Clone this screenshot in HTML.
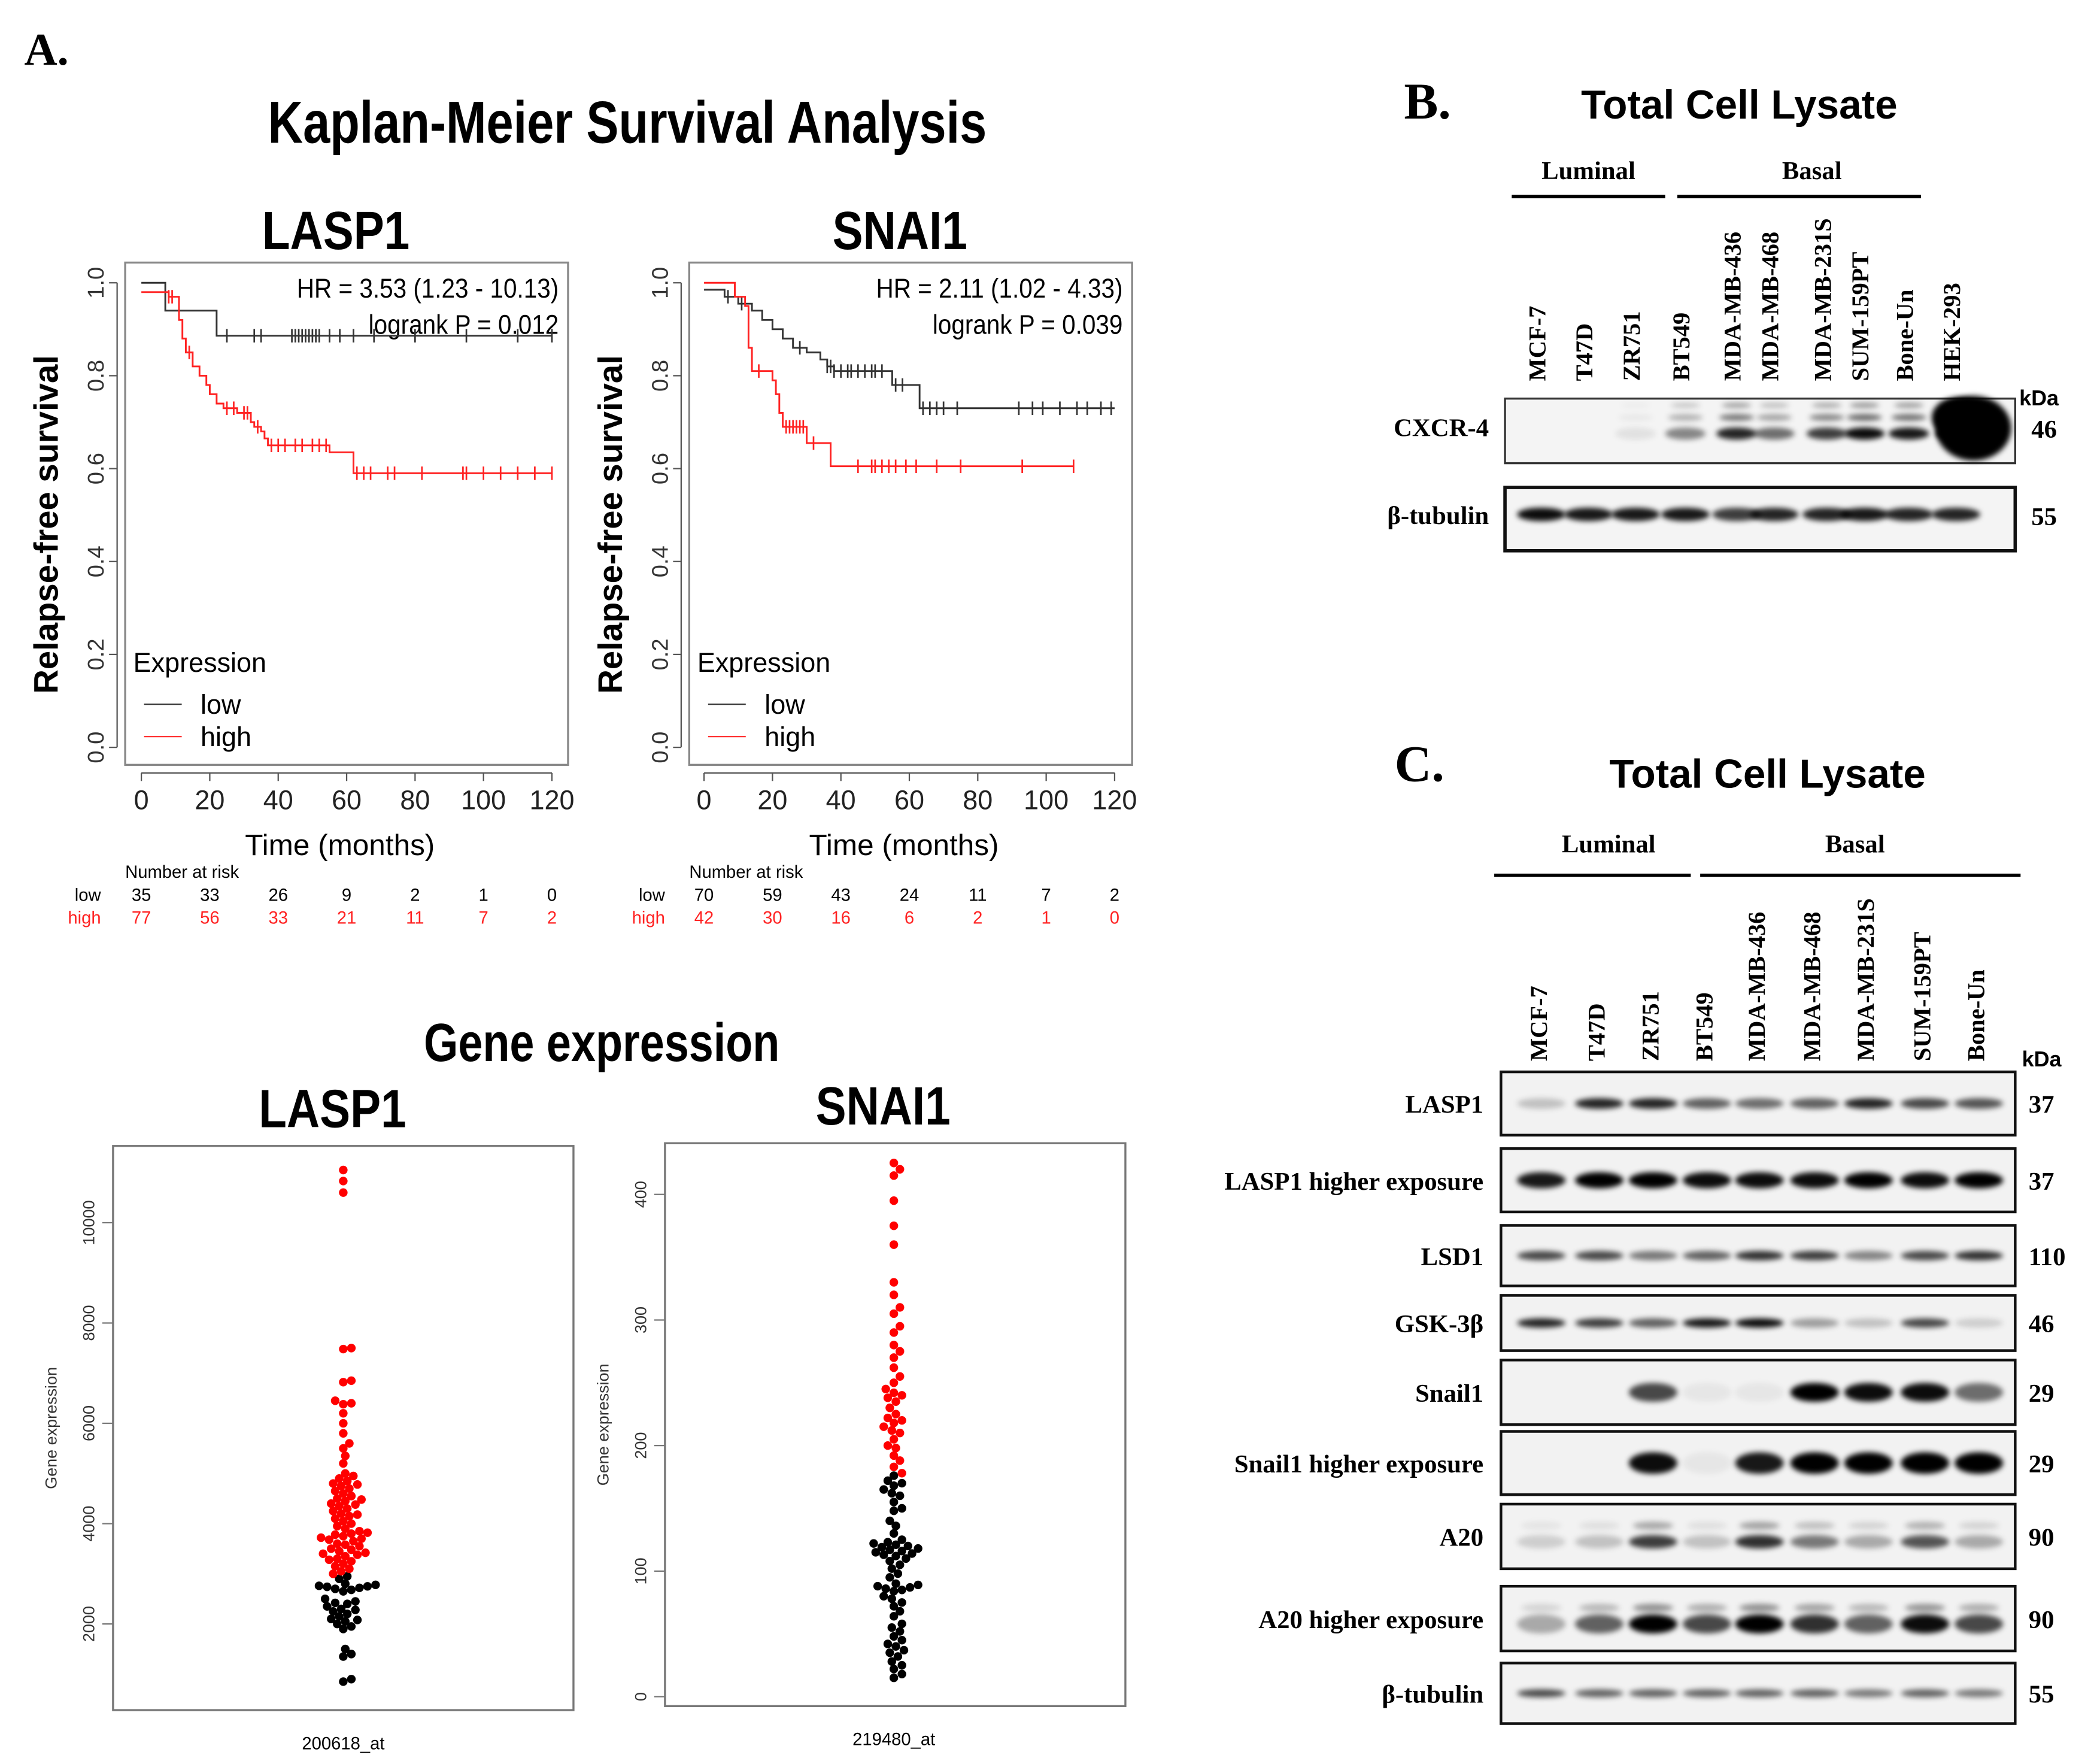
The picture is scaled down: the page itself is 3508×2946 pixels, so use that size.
<!DOCTYPE html>
<html><head><meta charset="utf-8">
<style>
html,body{margin:0;padding:0;background:#fff;}
svg{display:block;}
.ser{font-family:"Liberation Serif",serif;font-weight:bold;}
.san{font-family:"Liberation Sans",sans-serif;}
.nar{font-family:"Liberation Sans Narrow","Liberation Sans",sans-serif;}
</style></head>
<body>
<svg id="fig" width="3508" height="2946" viewBox="0 0 1560 1310" preserveAspectRatio="none" xmlns="http://www.w3.org/2000/svg">
<defs>
<filter id="blur" x="-50%" y="-200%" width="200%" height="500%"><feGaussianBlur stdDeviation="2"/></filter>
</defs>
<g id="root"></g>
<text x="18" y="48" class="ser" font-size="34">A.</text>
<text x="466" y="106" text-anchor="middle" class="nar" font-weight="bold" font-size="44" transform="translate(466,106) scale(0.82,1) translate(-466,-106)">Kaplan-Meier Survival Analysis</text>
<text x="447" y="788" text-anchor="middle" class="nar" font-weight="bold" font-size="40" transform="translate(447,788) scale(0.82,1) translate(-447,-788)">Gene expression</text>
</svg>
<script>
// ---------- KM data ----------
const kmLaspLowT=[0,7,22];
const kmLaspLowS=[1.0,0.94,0.886];
const kmLaspLowCT=[25,33,35,44,45,46,47,48,49,50,51,52,55,58,62,68,80,95,110,120];
const kmLaspHighT=[0,8,11,12,13,15,17,19,20,22,24,28,32,33,35,36,37,55,62];
const kmLaspHighS=[0.98,0.97,0.92,0.88,0.85,0.82,0.80,0.78,0.76,0.74,0.73,0.72,0.70,0.69,0.68,0.665,0.65,0.635,0.59];
const kmLaspHighCT=[8,9,14,25,27,30,31,34,38,40,42,45,47,50,52,54,63,65,67,72,74,82,94,95,100,105,110,115,120];
const kmSnaiLowT=[0,6,10,14,17,20,23,26,30,34,36,38,55,63];
const kmSnaiLowS=[0.985,0.97,0.955,0.94,0.92,0.90,0.88,0.86,0.85,0.835,0.82,0.81,0.78,0.73];
const kmSnaiLowCT=[7,11,28,36,37,38,40,42,43,45,47,49,50,52,56,58,64,66,68,70,74,92,96,99,104,109,112,116,119];
const kmSnaiHighT=[0,9,12,13,14,20,21,22,23,30,37];
const kmSnaiHighS=[1.0,0.97,0.95,0.86,0.81,0.79,0.76,0.72,0.69,0.655,0.605];
const kmSnaiHighCT=[16,24,25,26,27,28,29,32,45,49,50,52,54,56,59,62,68,75,93,108];
const xTicks=[0,20,40,60,80,100,120];
const yTicks=[0,0.2,0.4,0.6,0.8,1.0];
const riskLaspLow=[35,33,26,9,2,1,0];
const riskLaspHigh=[77,56,33,21,11,7,2];
const riskSnaiLow=[70,59,43,24,11,7,2];
const riskSnaiHigh=[42,30,16,6,2,1,0];
// ---------- swarm data ----------
const laspHigh=[11050,10830,10600,7500,7480,6850,6820,6450,6400,6380,6200,6000,5800,5600,5500,5350,5200,5000,4950,4900,4850,4800,4780,4750,4700,4650,4600,4550,4500,4480,4450,4400,4380,4350,4300,4250,4200,4180,4150,4100,4050,4000,3950,3900,3850,3820,3800,3780,3750,3720,3700,3680,3650,3600,3580,3550,3500,3480,3450,3420,3400,3380,3350,3300,3280,3250,3200,3150,3100,3050,3000];
const laspLow=[2950,2900,2800,2780,2760,2750,2740,2720,2700,2680,2650,2500,2450,2420,2400,2350,2300,2280,2250,2200,2150,2100,2080,2050,2000,1950,1900,1500,1400,1350,900,850];
const snaiHigh=[425,420,415,395,375,360,330,320,310,305,295,290,280,275,270,262,255,250,245,242,240,238,235,230,225,222,220,218,215,212,210,205,200,198,192,188,183,178];
const snaiLow=[176,172,170,168,165,162,160,155,150,148,140,136,130,125,123,122,121,120,119,118,117,116,115,114,113,112,110,108,105,102,98,95,90,89,88,87,86,85,84,80,78,75,72,68,64,58,55,52,48,45,42,40,37,35,32,28,25,22,18,15];
// ---------- blot data ----------
const lanesB=["MCF-7","T47D","ZR751","BT549","MDA-MB-436","MDA-MB-468","MDA-MB-231S","SUM-159PT","Bone-Un","HEK-293"];
const cxcr4=[0,0,0.08,0.45,0.85,0.55,0.75,0.95,0.9,1.0];
const tubB=[0.95,0.9,0.9,0.9,0.75,0.85,0.85,0.9,0.85,0.85];
const lanesC=["MCF-7","T47D","ZR751","BT549","MDA-MB-436","MDA-MB-468","MDA-MB-231S","SUM-159PT","Bone-Un"];
const rowNames=["LASP1","LASP1 higher exposure","LSD1","GSK-3β","Snail1","Snail1 higher exposure","A20","A20 higher exposure","β-tubulin"];
const rowKda=["37","37","110","46","29","29","90","90","55"];
const rowLasp=[0.2,0.85,0.85,0.6,0.55,0.6,0.85,0.7,0.65];
const rowLaspHi=[0.9,1,1,0.95,0.95,0.95,1,0.95,1];
const rowLsd=[0.7,0.7,0.5,0.6,0.8,0.75,0.45,0.7,0.8];
const rowGsk=[0.85,0.75,0.6,0.9,0.95,0.35,0.2,0.7,0.15];
const rowSnail=[0,0,0.7,0.05,0.05,1,0.95,0.95,0.55];
const rowSnailHi=[0,0,0.95,0.05,0.9,1,1,1,1];
const rowA20=[0.15,0.2,0.75,0.2,0.8,0.5,0.3,0.65,0.3];
const rowA20Hi=[0.3,0.6,1,0.7,1,0.8,0.6,0.95,0.7];
const rowTub=[0.7,0.6,0.6,0.6,0.6,0.6,0.5,0.6,0.5];
const rowData=[rowLasp,rowLaspHi,rowLsd,rowGsk,rowSnail,rowSnailHi,rowA20,rowA20Hi,rowTub];

const NS="http://www.w3.org/2000/svg";
const root=document.getElementById('root');
function mk(tag,attrs,parent){const e=document.createElementNS(NS,tag);for(const k in attrs)e.setAttribute(k,attrs[k]);(parent||root).appendChild(e);return e;}
function txt(x,y,s,attrs,parent){const e=mk('text',Object.assign({x:x,y:y},attrs),parent);e.textContent=s;return e;}

// ---------- KM ----------
function kmPanel(cfg){
  const g=mk('g',{});
  
  
  const L=cfg.x0,R=cfg.x0+329,T=195,B=568;
  const xs=t=>cfg.xz+(t/120)*305;
  const ys=s=>555-s*345;
  const frame=mk('rect',{x:L,y:T,width:R-L,height:B-T,fill:'none',stroke:'#888','stroke-width':1.5},g);
  
  
  const title=txt((L+R)/2-8,185,cfg.name,{class:'nar','font-weight':'bold','font-size':40,'text-anchor':'middle',transform:`translate(${(L+R)/2-8},185) scale(0.85,1) translate(${-((L+R)/2-8)},-185)`},g);
  
  
  mk('line',{x1:xs(0),x2:xs(120),y1:B+6,y2:B+6,stroke:'#555'},g);
  xTicks.forEach(t=>{mk('line',{x1:xs(t),x2:xs(t),y1:B+6,y2:B+12,stroke:'#555'},g);
    const tl=txt(xs(t),B+33,String(t),{class:'nar','font-size':20,'text-anchor':'middle',fill:'#222'},g);
    
    });
  mk('line',{x1:L-6,x2:L-6,y1:ys(0),y2:ys(1),stroke:'#555'},g);
  yTicks.forEach(v=>{mk('line',{x1:L-12,x2:L-6,y1:ys(v),y2:ys(v),stroke:'#555'},g);
    const tl=txt(L-22,ys(v),v.toFixed(1),{class:'san','font-size':17,'text-anchor':'middle',fill:'#333',transform:`rotate(-90 ${L-22} ${ys(v)})`,dy:6},g);
    
    });
  const yt=txt(L-50,(T+B)/2+8,'Relapse-free survival',{class:'san','font-weight':'bold','font-size':25,'text-anchor':'middle',transform:`rotate(-90 ${L-50} ${(T+B)/2+8})`},g);
  
  
  const xt=txt((L+R)/2-5,635,'Time (months)',{class:'nar','font-size':22,'text-anchor':'middle'},g);
  
  
  txt(R-7,221,cfg.hr,{class:'nar','font-size':20,'text-anchor':'end',transform:`translate(${R-7},0) scale(0.9,1) translate(${-(R-7)},0)`},g);
  txt(R-7,248,cfg.p,{class:'nar','font-size':20,'text-anchor':'end',transform:`translate(${R-7},0) scale(0.9,1) translate(${-(R-7)},0)`},g);
  const lg=mk('g',{},g);
  
  
  txt(L+6,499,'Expression',{class:'nar','font-size':20},lg);
  mk('line',{x1:L+14,x2:L+42,y1:523,y2:523,stroke:'#333'},lg);
  txt(L+56,530,'low',{class:'nar','font-size':20},lg);
  mk('line',{x1:L+14,x2:L+42,y1:547,y2:547,stroke:'#f33'},lg);
  txt(L+56,554,'high',{class:'nar','font-size':20},lg);
  function curve(T_,S_,C_,col,nm){
    let d=`M${xs(T_[0])},${ys(S_[0])}`;
    for(let i=1;i<T_.length;i++){d+=`H${xs(T_[i])}V${ys(S_[i])}`;}
    d+=`H${xs(cfg.end[nm])}`;
    const p=mk('path',{d:d,fill:'none',stroke:col,'stroke-width':1.3},g);
    
    
    C_.forEach(t=>{let s=S_[0];for(let i=0;i<T_.length;i++){if(T_[i]<=t)s=S_[i];}
      const c=mk('path',{d:`M${xs(t)},${ys(s)-5}v10`,stroke:col,'stroke-width':1.2},g);
      
      });
  }
  curve(cfg.lowT,cfg.lowS,cfg.lowC,'#333','low');
  curve(cfg.highT,cfg.highS,cfg.highC,'#f22','high');
  const rk=mk('g',{},g);
  
  
  txt(L,652,'Number at risk',{class:'nar','font-size':13},rk);
  txt(L-18,669,'low',{class:'nar','font-size':13,'text-anchor':'end'},rk);
  txt(L-18,686,'high',{class:'nar','font-size':13,'text-anchor':'end',fill:'#f22'},rk);
  xTicks.forEach((t,i)=>{txt(xs(t),669,String(cfg.rLow[i]),{class:'nar','font-size':13,'text-anchor':'middle'},rk);
    txt(xs(t),686,String(cfg.rHigh[i]),{class:'nar','font-size':13,'text-anchor':'middle',fill:'#f22'},rk);});
}
kmPanel({name:'LASP1',x0:93,xz:105,hr:'HR = 3.53 (1.23 - 10.13)',p:'logrank P = 0.012',lowT:kmLaspLowT,lowS:kmLaspLowS,lowC:kmLaspLowCT,highT:kmLaspHighT,highS:kmLaspHighS,highC:kmLaspHighCT,end:{low:120,high:120},rLow:riskLaspLow,rHigh:riskLaspHigh});
kmPanel({name:'SNAI1',x0:512,xz:523,hr:'HR = 2.11 (1.02 - 4.33)',p:'logrank P = 0.039',lowT:kmSnaiLowT,lowS:kmSnaiLowS,lowC:kmSnaiLowCT,highT:kmSnaiHighT,highS:kmSnaiHighS,highC:kmSnaiHighCT,end:{low:120,high:108},rLow:riskSnaiLow,rHigh:riskSnaiHigh});

// ---------- Swarm ----------
function swarm(cfg){
  const g=mk('g',{});
  
  
  const fr=mk('rect',{x:cfg.L,y:cfg.T,width:342,height:cfg.B-cfg.T,fill:'none',stroke:'#777','stroke-width':1.5},g);
  
  
  const tt=txt(cfg.cx-8,cfg.T-14,cfg.name,{class:'nar','font-weight':'bold','font-size':40,'text-anchor':'middle',transform:`translate(${cfg.cx-8},${cfg.T-14}) scale(0.85,1) translate(${-(cfg.cx-8)},${-(cfg.T-14)})`},g);
  
  
  cfg.ticks.forEach(v=>{const y=cfg.ys(v);mk('line',{x1:cfg.L-8,x2:cfg.L,y1:y,y2:y,stroke:'#777'},g);
    const tl=txt(cfg.L-18,y,String(v),{class:'san','font-size':12,'text-anchor':'middle',fill:'#333',transform:`rotate(-90 ${cfg.L-18} ${y})`,dy:4},g);
    
    });
  const yl=txt(cfg.L-42,(cfg.T+cfg.B)/2,'Gene expression',{class:'san','font-size':12,'text-anchor':'middle',fill:'#333',transform:`rotate(-90 ${cfg.L-42} ${(cfg.T+cfg.B)/2})`},g);
  
  
  const xl=txt(cfg.cx,cfg.B+29,cfg.xlab,{class:'nar','font-size':13,'text-anchor':'middle'},g);
  
  
  const pts=cfg.high.map(v=>({v,c:'#f00'})).concat(cfg.low.map(v=>({v,c:'#000'})));
  pts.sort((a,b)=>a.v-b.v);
  const placed=[];const r=3.2,d=2*r;
  pts.forEach(p=>{const y=cfg.ys(p.v);let best=0;
    for(let k=0;k<60;k++){const off=(k%2?1:-1)*Math.ceil(k/2)*1.5;
      if(placed.every(q=>(q.x-(cfg.cx+off))**2+(q.y-y)**2>=d*d*0.8)){best=off;break;}}
    placed.push({x:cfg.cx+best,y});
    const c=mk('circle',{cx:cfg.cx+best,cy:y,r:r,fill:p.c},g);
    
    });
}
swarm({name:'LASP1',L:84,T:851,B:1270,cx:255,ys:v=>1206-(v-2000)*0.03725,ticks:[2000,4000,6000,8000,10000],high:laspHigh,low:laspLow,xlab:'200618_at'});
swarm({name:'SNAI1',L:494,T:849,B:1267,cx:664,ys:v=>1260-v*0.9325,ticks:[0,100,200,300,400],high:snaiHigh,low:snaiLow,xlab:'219480_at'});

// ---------- Blots ----------
function band(g,x,y,w,h,a){if(a<=0.01)return;
  const e=mk('ellipse',{cx:x,cy:y,rx:w/2,ry:h/2,fill:'#000','fill-opacity':Math.min(1,a),filter:'url(#blur)'},g);
  
  }
// Panel B
(function(){
  const g=mk('g',{});
  
  
  txt(1043,88,'B.',{class:'ser','font-size':38},g);
  txt(1292,88,'Total Cell Lysate',{class:'san','font-weight':'bold','font-size':30,'text-anchor':'middle'},g);
  txt(1180,133,'Luminal',{class:'ser','font-size':19,'text-anchor':'middle'},g);
  txt(1346,133,'Basal',{class:'ser','font-size':19,'text-anchor':'middle'},g);
  mk('line',{x1:1123,x2:1237,y1:146,y2:146,stroke:'#000','stroke-width':2.5},g);
  mk('line',{x1:1246,x2:1427,y1:146,y2:146,stroke:'#000','stroke-width':2.5},g);
  const lx=[1145,1180,1215,1252,1290,1318,1357,1385,1418,1453];
  lanesB.forEach((n,i)=>{const t=txt(lx[i]+3,283,n,{class:'ser','font-size':18,transform:`rotate(-90 ${lx[i]+3} 283)`},g);
    
    });
  mk('rect',{x:1118,y:296,width:379,height:48,fill:'#f4f4f4',stroke:'#333','stroke-width':1.5},g);
  mk('rect',{x:1118,y:362,width:379,height:47,fill:'#f4f4f4',stroke:'#111','stroke-width':2.5},g);
  cxcr4.forEach((a,i)=>{band(g,lx[i],322,30,9,a);band(g,lx[i],310,26,5,a*0.6);band(g,lx[i],301,22,4,a*0.4);});
  band(g,1466,318,56,48,1.0);band(g,1455,310,40,30,1.0);
  tubB.forEach((a,i)=>band(g,lx[i],382,36,10,a));
  txt(1106,324,'CXCR-4',{class:'ser','font-size':19,'text-anchor':'end'},g);
  txt(1106,389,'β-tubulin',{class:'ser','font-size':19,'text-anchor':'end'},g);
  txt(1500,301,'kDa',{class:'san','font-weight':'bold','font-size':16},g);
  txt(1509,325,'46',{class:'ser','font-size':19},g);
  txt(1509,390,'55',{class:'ser','font-size':19},g);
})();
// Panel C
(function(){
  const g=mk('g',{});
  
  
  txt(1036,580,'C.',{class:'ser','font-size':38},g);
  txt(1313,585,'Total Cell Lysate',{class:'san','font-weight':'bold','font-size':30,'text-anchor':'middle'},g);
  txt(1195,633,'Luminal',{class:'ser','font-size':19,'text-anchor':'middle'},g);
  txt(1378,633,'Basal',{class:'ser','font-size':19,'text-anchor':'middle'},g);
  mk('line',{x1:1110,x2:1256,y1:650,y2:650,stroke:'#000','stroke-width':2.5},g);
  mk('line',{x1:1263,x2:1501,y1:650,y2:650,stroke:'#000','stroke-width':2.5},g);
  const lx=[1145,1188,1228,1268,1307,1348,1388,1430,1470];
  lanesC.forEach((n,i)=>{const t=txt(lx[i]+4,788,n,{class:'ser','font-size':18,transform:`rotate(-90 ${lx[i]+4} 788)`},g);
    
    });
  txt(1502,792,'kDa',{class:'san','font-weight':'bold','font-size':16},g);
  const rows=[[796,843],[853,900],[910,955],[962,1003],[1010,1058],[1063,1110],[1117,1165],[1178,1226],[1235,1280]];
  const bh=[8,12,7,7,14,16,10,14,6];
  rows.forEach((r,k)=>{
    const bx=mk('rect',{x:1115,y:r[0],width:382,height:r[1]-r[0],fill:'#f2f2f2',stroke:'#111','stroke-width':2},g);
    
    
    const cy=(r[0]+r[1])/2+(k>=6&&k<=7?4:0);
    rowData[k].forEach((a,i)=>band(g,lx[i],cy,36,bh[k],a));
    if(k>=6&&k<=7)rowData[k].forEach((a,i)=>band(g,lx[i],cy-12,30,6,a*0.4));
    const nm=txt(1102,(r[0]+r[1])/2+7,rowNames[k],{class:'ser','font-size':19,'text-anchor':'end'},g);
    
    
    txt(1507,(r[0]+r[1])/2+7,rowKda[k],{class:'ser','font-size':19},g);
  });
})();
</script>
</body></html>
